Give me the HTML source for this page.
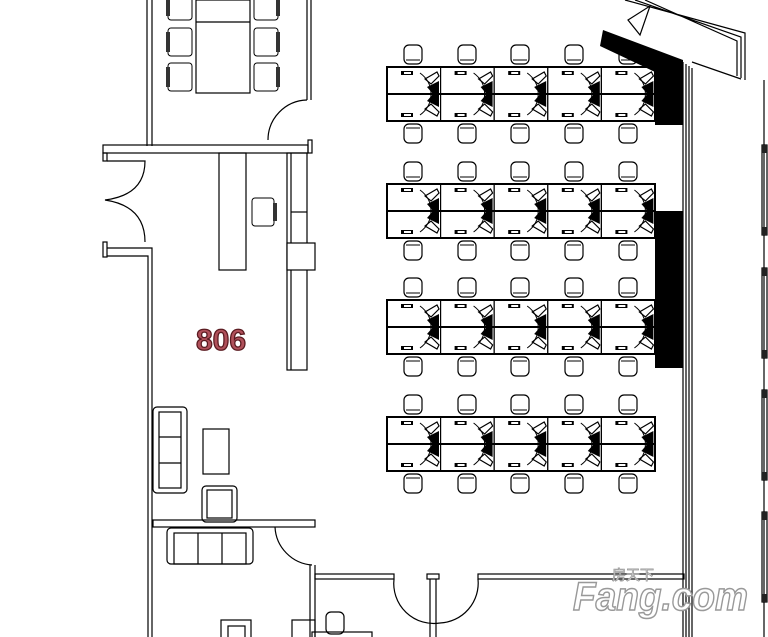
<!DOCTYPE html>
<html><head><meta charset="utf-8"><style>html,body{margin:0;padding:0;background:#fff}svg{display:block}</style></head>
<body>
<svg width="768" height="637" viewBox="0 0 768 637" xmlns="http://www.w3.org/2000/svg" font-family="Liberation Sans, sans-serif">
<defs>
<g id="ch"><rect x="-9" y="-9" width="18" height="19" rx="5" fill="#fff" stroke="#000" stroke-width="1.2"/><line x1="-7" y1="6" x2="7" y2="6" stroke="#000" stroke-width="1"/></g>
<g id="cell">
<rect x="0" y="0" width="53.6" height="27" fill="#fff" stroke="#000" stroke-width="1.2"/>
<rect x="14" y="4" width="12" height="4" fill="#000"/><rect x="17" y="5" width="7" height="2" fill="#fff"/>
<path d="M38 12 L50 5 L52 9 L44 17 Z" fill="#fff" stroke="#000" stroke-width="1.2"/>
<path d="M40 20 L52 14 L52 27 L46 27 Z" fill="#000"/>
<path d="M33 6 Q44 14 44 27" fill="none" stroke="#000" stroke-width="1"/>
</g>
<g id="blk">
<g id="row"><use href="#cell" x="0"/><use href="#cell" x="53.6"/><use href="#cell" x="107.2"/><use href="#cell" x="160.8"/><use href="#cell" x="214.4"/></g>
<g transform="translate(0,54) scale(1,-1)"><use href="#row"/></g>
<rect x="0" y="0" width="268" height="54" fill="none" stroke="#000" stroke-width="2"/>
<line x1="0" y1="27" x2="268" y2="27" stroke="#000" stroke-width="2"/>
<g id="crow"><use href="#ch" x="26" y="-13"/><use href="#ch" x="80" y="-13"/><use href="#ch" x="133" y="-13"/><use href="#ch" x="187" y="-13"/><use href="#ch" x="241" y="-13"/></g>
<g transform="translate(0,54) scale(1,-1)"><use href="#crow"/></g>
</g>
<g id="mc"><rect x="-12" y="-14" width="24" height="28" rx="3" fill="#fff" stroke="#000"/><rect x="-14" y="-10" width="4" height="20" fill="#333"/></g>
</defs>
<g fill="none" stroke="#000" stroke-width="1.2">
<line x1="147" y1="0" x2="147" y2="146"/><line x1="152" y1="0" x2="152" y2="146"/>
<line x1="307" y1="0" x2="307" y2="100"/><line x1="311" y1="0" x2="311" y2="100"/>
<rect x="196" y="0" width="54" height="93"/><line x1="196" y1="22" x2="250" y2="22"/>
<path d="M307 100 A40 40 0 0 0 268 140"/>
<rect x="103" y="145" width="205" height="8"/>
<rect x="308" y="140" width="4" height="13"/>
<rect x="103" y="153" width="4" height="8"/>
<path d="M107 161 L145 161 Q145 195 105 200 Q145 206 145 242"/>
<rect x="103" y="242" width="4" height="15"/>
<path d="M107 248 L152 248 L152 637 M107 256 L148 256 L148 637"/>
<rect x="219" y="153" width="27" height="117"/>
<rect x="287" y="153" width="20" height="217"/><line x1="291" y1="153" x2="291" y2="370"/>
<line x1="291" y1="212" x2="307" y2="212"/>
<rect x="287" y="243" width="28" height="27" fill="#fff"/>
<rect x="153" y="407" width="34" height="86" rx="4"/><rect x="159" y="412" width="22" height="76"/>
<line x1="159" y1="437" x2="181" y2="437"/><line x1="159" y1="463" x2="181" y2="463"/>
<rect x="203" y="429" width="26" height="45"/>
<rect x="202" y="486" width="35" height="36" rx="4"/><rect x="207" y="490" width="25" height="28"/>
<rect x="153" y="520" width="162" height="7"/>
<rect x="167" y="528" width="86" height="36" rx="4"/><rect x="174" y="533" width="72" height="31"/>
<line x1="198" y1="533" x2="198" y2="564"/><line x1="222" y1="533" x2="222" y2="564"/>
<path d="M275 527 A40 40 0 0 0 312 565"/>
<line x1="310" y1="565" x2="310" y2="637"/><line x1="315" y1="565" x2="315" y2="637"/>
<rect x="315" y="574" width="79" height="5"/>
<path d="M394 579 A40 40 0 0 0 440 623"/>
<rect x="427" y="574" width="12" height="5"/><line x1="430" y1="579" x2="430" y2="637"/><line x1="436" y1="579" x2="436" y2="637"/>
<path d="M478 579 A40 40 0 0 1 440 623"/>
<rect x="478" y="574" width="206" height="5"/>
<rect x="292" y="620" width="23" height="20"/>
<rect x="221" y="620" width="30" height="20"/><rect x="228" y="626" width="17" height="14"/>
<rect x="326" y="612" width="18" height="22" rx="5"/><rect x="312" y="632" width="60" height="8"/>
<line x1="683" y1="62" x2="683" y2="637"/><line x1="686" y1="64" x2="686" y2="637"/><line x1="689" y1="66" x2="689" y2="637"/><line x1="692" y1="68" x2="692" y2="637"/>
<line x1="764" y1="80" x2="764" y2="637"/>
<path d="M625 0 L745 33 L745 80 M635 0 L741 37 L741 78 M645 0 L737 41 L737 76 M692 62 L741 79"/>
<path d="M628 20 L650 6 L640 35 Z"/>
<rect x="762" y="145" width="5" height="90"/><rect x="762" y="268" width="5" height="90"/><rect x="762" y="390" width="5" height="90"/><rect x="762" y="512" width="5" height="90"/>
</g>
<g fill="#222">
<rect x="762" y="145" width="5" height="8"/><rect x="762" y="227" width="5" height="8"/>
<rect x="762" y="268" width="5" height="8"/><rect x="762" y="350" width="5" height="8"/>
<rect x="762" y="390" width="5" height="8"/><rect x="762" y="472" width="5" height="8"/>
<rect x="762" y="512" width="5" height="8"/><rect x="762" y="594" width="5" height="8"/>
</g>
<use href="#mc" x="180" y="6"/><use href="#mc" x="180" y="42"/><use href="#mc" x="180" y="77"/>
<g transform="translate(446,0) scale(-1,1)"><use href="#mc" x="180" y="6"/><use href="#mc" x="180" y="42"/><use href="#mc" x="180" y="77"/></g>
<g transform="translate(263,212) scale(-1,1)"><rect x="-11" y="-14" width="22" height="28" rx="3" fill="#fff" stroke="#000"/><rect x="-14" y="-9" width="4" height="18" fill="#333"/></g>
<use href="#blk" x="387" y="67"/>
<use href="#blk" x="387" y="184"/>
<use href="#blk" x="387" y="300"/>
<use href="#blk" x="387" y="417"/>
<polygon points="603,30 683,60 683,125 655,125 655,72 600,46" fill="#000"/>
<rect x="655" y="211" width="28" height="157" fill="#000"/>
<text x="221" y="350" text-anchor="middle" font-size="30" font-weight="bold" fill="#b0505a" stroke="#5a1a20" stroke-width="1.3">806</text>
<text x="573" y="610" font-size="40" font-weight="bold" fill="#fff" stroke="#999" stroke-width="1.5" font-style="italic" textLength="175" lengthAdjust="spacingAndGlyphs">Fang.com</text>
<text x="612" y="580" font-size="14" fill="#fff" stroke="#999" stroke-width="0.8" font-family="Liberation Sans, Noto Sans CJK SC, sans-serif">房天下</text>
</svg>
</body></html>
